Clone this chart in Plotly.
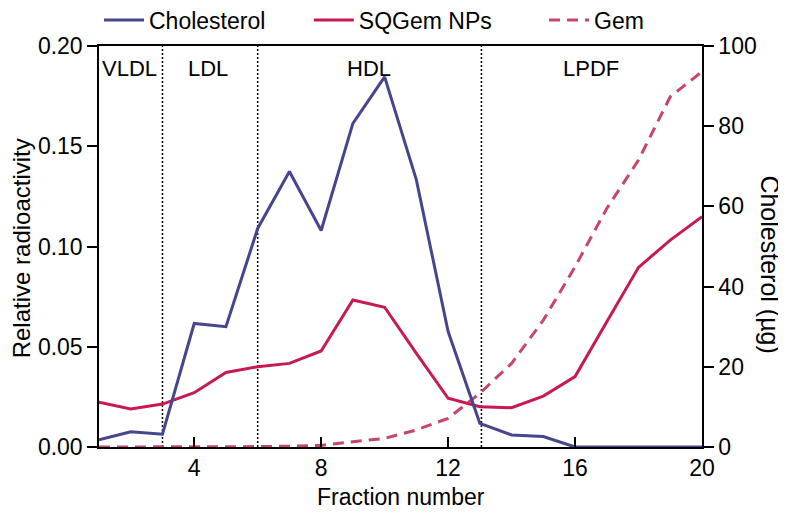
import plotly.graph_objects as go

fractions = list(range(1, 21))
cholesterol_ug = [1.8, 3.8, 3.2, 30.8, 30.0, 54.5, 68.7, 54.0, 80.7, 92.3,
                  66.6, 28.8, 5.9, 3.0, 2.6, 0.0, 0.0, 0.0, 0.0, 0.0]
sqgem_nps = [0.0223, 0.0190, 0.0214, 0.0271, 0.0372, 0.0400, 0.0417, 0.0479, 0.0733, 0.0697,
             0.0467, 0.0243, 0.0201, 0.0196, 0.0254, 0.0351, 0.0625, 0.0896, 0.1032, 0.1149]
gem = [0.0, 0.0, 0.0, 0.0, 0.0, 0.0002, 0.0004, 0.0008, 0.0026, 0.0043,
       0.0085, 0.0143, 0.0268, 0.0417, 0.0633, 0.0899, 0.1190, 0.1431, 0.1747, 0.1872]
region_bounds = [3, 6, 13.05]
region_names = ["VLDL", "LDL", "HDL", "LPDF"]
region_label_x = [1.95, 4.45, 9.5, 16.5]
x_ticks = [4, 8, 12, 16, 20]
left_ticks = [0, 0.05, 0.10, 0.15, 0.20]
right_ticks = [0, 20, 40, 60, 80, 100]

BLUE = "#46468c"
RED = "#c81a52"
RED_D = "#c8456c"
FONT = "Liberation Sans, Arial, sans-serif"
FS = 23

fig = go.Figure()
fig.add_trace(go.Scatter(x=fractions, y=cholesterol_ug, mode="lines", name="Cholesterol",
                         yaxis="y2", line=dict(color=BLUE, width=3), legend="legend"))
fig.add_trace(go.Scatter(x=fractions, y=sqgem_nps, mode="lines", name="SQGem NPs",
                         line=dict(color=RED, width=3), legend="legend2"))
fig.add_trace(go.Scatter(x=fractions, y=gem, mode="lines", name="Gem",
                         line=dict(color=RED_D, width=3, dash="11px,7px"), legend="legend3"))

for b in region_bounds:
    fig.add_shape(type="line", xref="x", yref="paper", x0=b, x1=b, y0=0, y1=1,
                  line=dict(color="black", width=1.5, dash="2px,2px"), layer="below")

for name, xl in zip(region_names, region_label_x):
    fig.add_annotation(x=xl, y=0.945, xref="x", yref="paper", text=name, showarrow=False,
                       font=dict(size=22, color="black", family=FONT), xanchor="center", yanchor="middle")

fig.add_annotation(x=-0.129, y=0.496, xref="paper", yref="paper", text="Relative radioactivity",
                   textangle=-90, showarrow=False, xanchor="center", yanchor="middle",
                   font=dict(size=24, color="black", family=FONT))
fig.add_annotation(x=1.113, y=0.455, xref="paper", yref="paper", text="Cholesterol (µg)",
                   textangle=90, showarrow=False, xanchor="center", yanchor="middle",
                   font=dict(size=25, color="black", family=FONT))
fig.add_annotation(x=0.5, y=-0.125, xref="paper", yref="paper", text="Fraction number",
                   showarrow=False, font=dict(size=FS, color="black", family=FONT),
                   xanchor="center", yanchor="middle")

leg_common = dict(orientation="h", yanchor="middle", y=1.065, xanchor="left", itemwidth=40,
                  bgcolor="rgba(0,0,0,0)", font=dict(size=FS, color="black", family=FONT))

# page body has an 8px default margin: shift plot accordingly
fig.update_layout(
    width=778, height=510,
    margin=dict(l=91, r=84, t=38, b=71, autoexpand=False),
    paper_bgcolor="white", plot_bgcolor="white",
    showlegend=True,
    font=dict(family=FONT, size=FS, color="black"),
    legend=dict(x=0.0, **leg_common),
    legend2=dict(x=0.348, **leg_common),
    legend3=dict(x=0.738, **leg_common),
    xaxis=dict(range=[1, 20], tickvals=x_ticks, ticks="inside", ticklen=10, tickwidth=1.5,
               tickcolor="black", showline=True, linecolor="black", linewidth=1.5, mirror=True,
               showgrid=False, zeroline=False),
    yaxis=dict(range=[0, 0.2], tickvals=left_ticks, tickformat=".2f", ticks="outside",
               ticklen=10, tickwidth=1.5, tickcolor="black", showline=True, linecolor="black",
               linewidth=1.5, showgrid=False, zeroline=False),
    yaxis2=dict(range=[0, 100], tickvals=right_ticks, overlaying="y", side="right",
                ticks="outside", ticklen=10, tickwidth=1.5, tickcolor="black", showline=True,
                linecolor="black", linewidth=1.5, showgrid=False, zeroline=False),
)

fig.write_html("out.html")
